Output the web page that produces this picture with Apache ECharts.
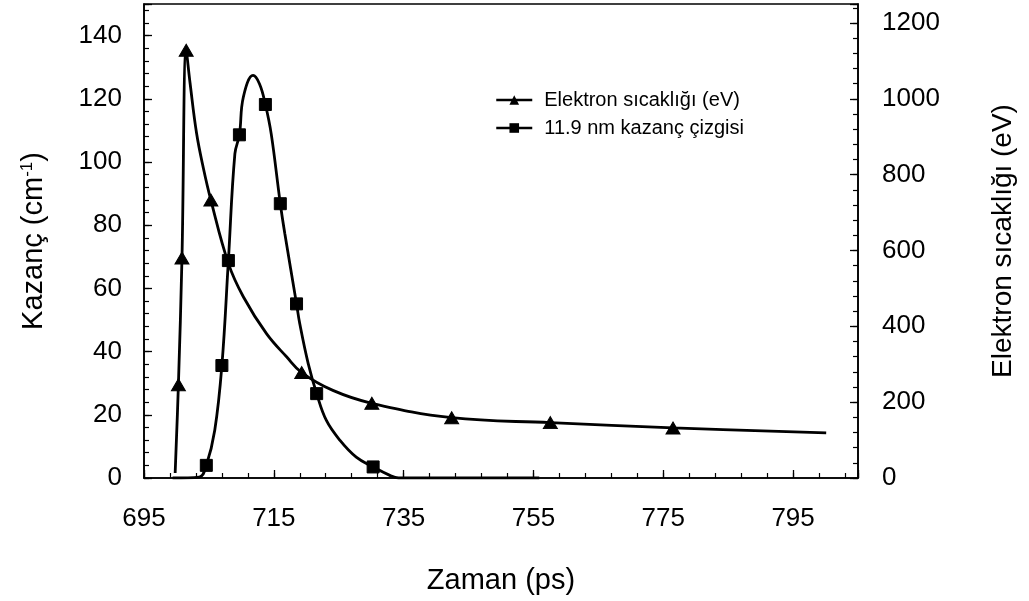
<!DOCTYPE html>
<html>
<head>
<meta charset="utf-8">
<script src="https://cdn.jsdelivr.net/npm/echarts@6/dist/echarts.min.js"></script>
<style>
  html, body { margin: 0; padding: 0; background: #fff; }
  #chart { width: 1029px; height: 601px; }
</style>
</head>
<body>
<div id="chart"></div>
<script>
// Time axis (ps)
const xTickLabels = [695, 715, 735, 755, 775, 795];

// Electron temperature (eV) vs time; marked = drawn with a triangle
const elecTime   = [699.8, 700.3, 700.85, 701.5, 702.1, 703.1, 704.15, 705.3, 708.0, 710.3, 713.9, 717.0, 719.3, 724.1, 730.1, 742.4, 757.6, 776.5, 800.1];
const elecTemp   = [13, 246, 580, 1128, 1041, 909, 817, 733, 566, 478, 380, 319, 278, 231, 197, 159, 146, 132, 119];
const elecMarked = [0, 1, 1, 1, 0, 0, 0, 1, 0, 0, 0, 0, 1, 0, 1, 1, 1, 1, 0];

// 11.9 nm gain (cm^-1) vs time; marked = drawn with a square
const gainTime   = [699.4, 703.5, 704.6, 705.9, 707.0, 708.0, 709.0, 709.7, 710.3, 711.8, 712.8, 713.7, 714.6, 716.0, 716.7, 718.5, 719.0, 720.3, 721.6, 723.1, 725.2, 727.7, 730.3, 732.8, 734.2, 755.9];
const gainValue  = [0, 0.3, 4.0, 15.1, 35.6, 68.8, 102.6, 108.6, 120.5, 127.4, 124.7, 118.2, 108.9, 86.8, 77.3, 55.1, 48.8, 36.2, 26.7, 18.2, 11.9, 6.6, 3.5, 0.9, 0, 0];
const gainMarked = [0, 0, 1, 0, 1, 1, 0, 1, 0, 0, 0, 1, 0, 1, 0, 1, 0, 0, 1, 0, 0, 0, 1, 0, 0, 0];

const elecName = 'Elektron sıcaklığı (eV)';
const gainName = '11.9 nm kazanç çizgisi';

function buildData(xs, ys, marks) {
  return xs.map((x, i) => marks[i]
    ? { value: [x, ys[i]] }
    : { value: [x, ys[i]], symbol: 'none' });
}

const FONT = '"Liberation Sans", Arial, sans-serif';
const black = '#000';

const majorTick = { show: true, inside: true, length: 8, lineStyle: { color: black, width: 1.3 } };
const minorTick = { show: true, inside: true, length: 5, lineStyle: { color: black, width: 1.2 } };
const axisLine = { show: true, lineStyle: { color: black, width: 1.6 } };

const chart = echarts.init(document.getElementById('chart'), null, { renderer: 'canvas' });

chart.setOption({
  animation: false,
  backgroundColor: '#fff',
  textStyle: { fontFamily: FONT, color: black },
  grid: {
    left: 144, right: 171, top: 4, bottom: 123,
    show: true, borderColor: black, borderWidth: 1.6
  },
  legend: {
    orient: 'vertical',
    left: 490, top: 85,
    itemWidth: 36, itemHeight: 12, itemGap: 8,
    lineStyle: { width: 2.5, color: black },
    textStyle: { fontSize: 20, color: black, fontFamily: FONT, padding: [0, 0, 0, 7] },
    data: [elecName, gainName]
  },
  xAxis: [
    {
      type: 'value', min: 695, max: 805, interval: 20, position: 'bottom',
      axisLine: axisLine, axisTick: majorTick, splitLine: { show: false },
      axisLabel: {
        color: black, fontSize: 26, margin: 28, fontFamily: FONT,
        formatter: v => xTickLabels.includes(v) ? String(v) : ''
      },
      name: 'Zaman (ps)', nameLocation: 'middle', nameGap: 88,
      nameTextStyle: { fontSize: 29, color: black, fontFamily: FONT }
    },
    {
      type: 'value', min: 695, max: 805, interval: 4, position: 'bottom',
      axisLine: { show: false }, axisTick: minorTick,
      axisLabel: { show: false }, splitLine: { show: false }
    }
  ],
  yAxis: [
    {
      type: 'value', min: 0, max: 150, interval: 20, position: 'left',
      axisLine: axisLine, axisTick: majorTick, splitLine: { show: false },
      axisLabel: {
        color: black, fontSize: 26, margin: 22, fontFamily: FONT,
        formatter: v => (v % 20 === 0 ? String(v) : '')
      },
      name: '{a|Kazanç (cm}{b|-1}{a|)}', nameLocation: 'middle', nameGap: 96, nameRotate: 90,
      nameTextStyle: {
        color: black, fontFamily: FONT, fontSize: 29,
        rich: {
          a: { fontSize: 29, color: black, fontFamily: FONT },
          b: { fontSize: 17, color: black, fontFamily: FONT, verticalAlign: 'top' }
        }
      }
    },
    {
      type: 'value', min: 0, max: 150, interval: 4, position: 'left',
      axisLine: { show: false }, axisTick: minorTick,
      axisLabel: { show: false }, splitLine: { show: false }
    },
    {
      type: 'value', min: 0, max: 1250, interval: 200, position: 'right',
      axisLine: axisLine, axisTick: majorTick, splitLine: { show: false },
      axisLabel: {
        color: black, fontSize: 26, margin: 24, fontFamily: FONT,
        formatter: v => (v % 200 === 0 ? String(v) : '')
      },
      name: elecName, nameLocation: 'middle', nameGap: 131, nameRotate: 90,
      nameTextStyle: { fontSize: 28, color: black, fontFamily: FONT }
    },
    {
      type: 'value', min: 0, max: 1250, interval: 40, position: 'right',
      axisLine: { show: false }, axisTick: minorTick,
      axisLabel: { show: false }, splitLine: { show: false }
    }
  ],
  series: [
    {
      name: elecName, type: 'line', xAxisIndex: 0, yAxisIndex: 2,
      data: buildData(elecTime, elecTemp, elecMarked),
      symbol: 'triangle', symbolSize: [14, 12], showAllSymbol: true,
      smooth: 0.4,
      lineStyle: { color: black, width: 2.8 },
      itemStyle: { color: black, borderColor: black }
    },
    {
      name: gainName, type: 'line', xAxisIndex: 0, yAxisIndex: 0,
      data: buildData(gainTime, gainValue, gainMarked),
      symbol: 'rect', symbolSize: 12, showAllSymbol: true,
      smooth: 0.4,
      lineStyle: { color: black, width: 2.8 },
      itemStyle: { color: black, borderColor: black }
    }
  ]
});
</script>
</body>
</html>
